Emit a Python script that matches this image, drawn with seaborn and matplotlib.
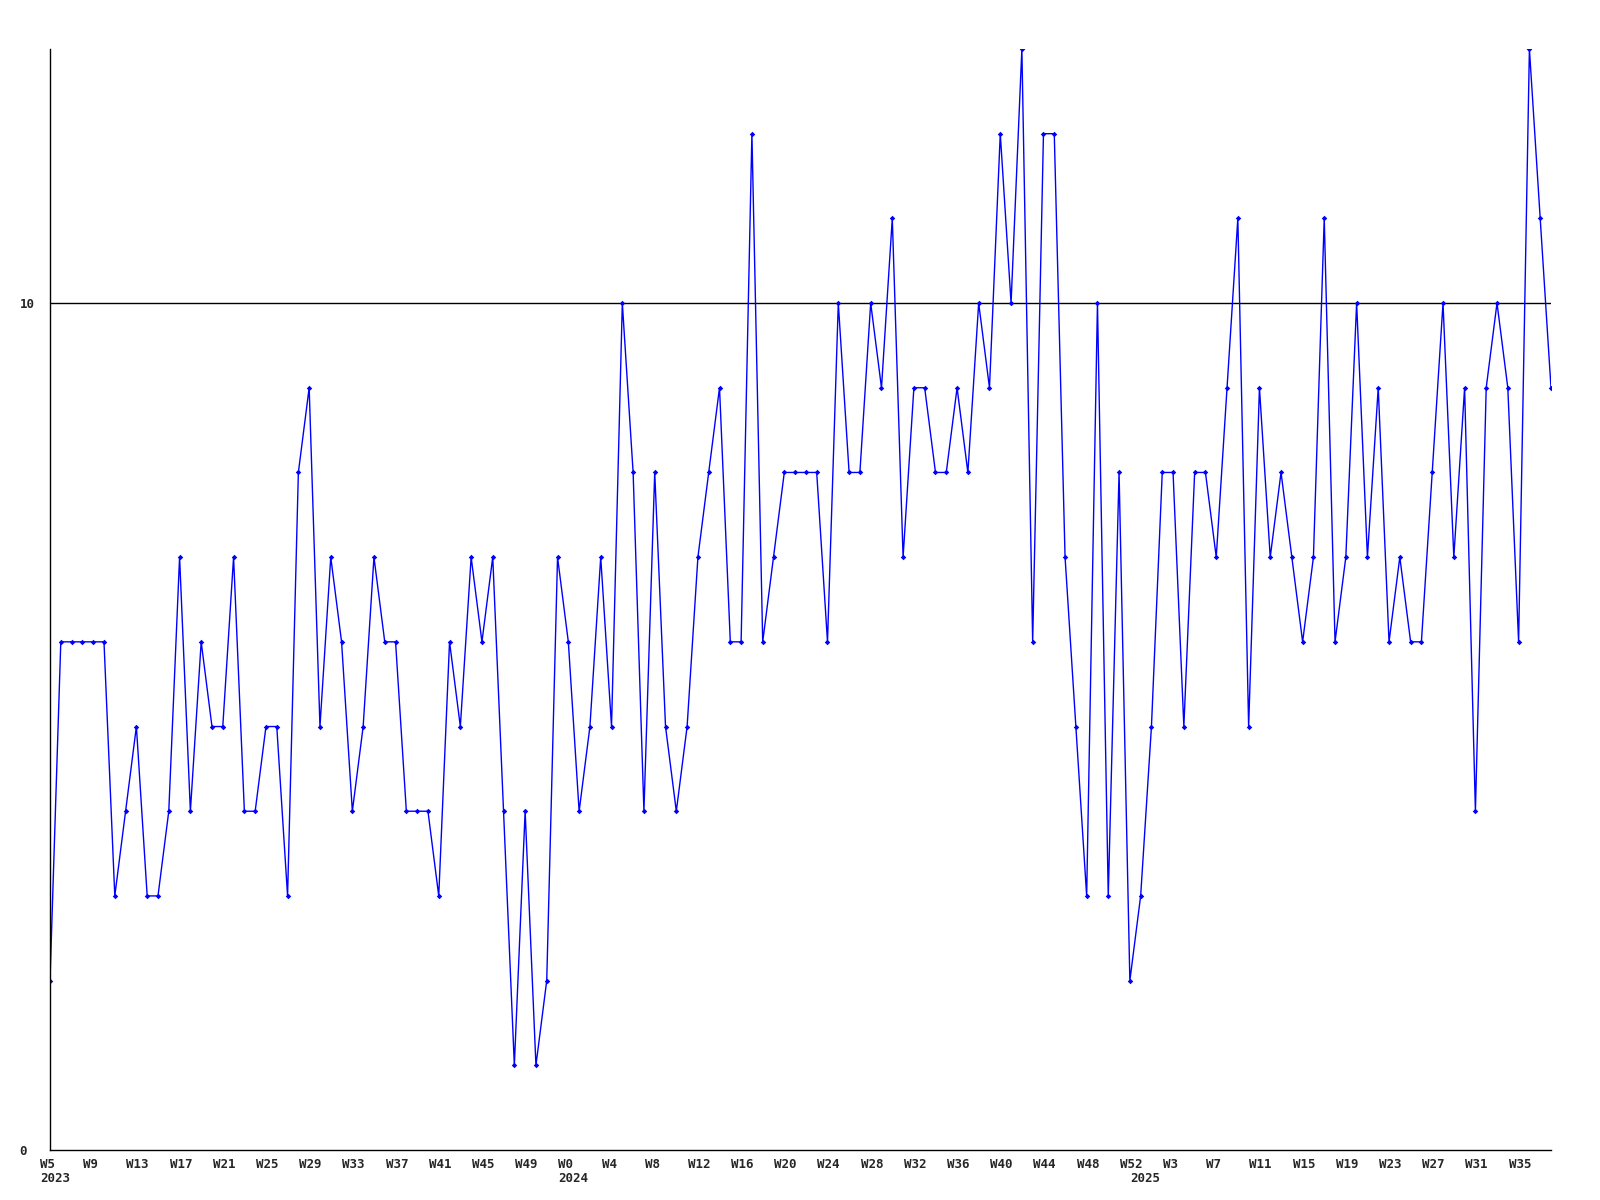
import numpy as np
import pandas as pd
import seaborn as sns
import matplotlib.pyplot as plt
import matplotlib.transforms as mtrans

# weekly counts, 2023 W5 .. 2025 W38
counts = [2, 6, 6, 6, 6, 6, 3, 4, 5, 3, 3, 4, 7, 4, 6, 5, 5, 7, 4, 4, 5, 5, 3,
          8, 9, 5, 7, 6, 4, 5, 7, 6, 6, 4, 4, 4, 3, 6, 5, 7, 6, 7, 4, 1, 4, 1, 2, 7,
          6, 4, 5, 7, 5, 10, 8, 4, 8, 5, 4, 5, 7, 8, 9, 6, 6, 12, 6, 7, 8, 8, 8, 8, 6,
          10, 8, 8, 10, 9, 11, 7, 9, 9, 8, 8, 9, 8, 10, 9, 12, 10, 13, 6, 12, 12, 7, 5, 3,
          10, 3, 8, 2, 3, 5, 8, 8, 5, 8, 8, 7, 9, 11, 5, 9, 7, 8, 7, 6, 7, 11, 6, 7,
          10, 7, 9, 6, 7, 6, 6, 8, 10, 7, 9, 4, 9, 10, 9, 6, 13, 11, 9]

week_labels = ["W5", "W9", "W13", "W17", "W21", "W25", "W29", "W33", "W37", "W41", "W45", "W49",
               "W0", "W4", "W8", "W12", "W16", "W20", "W24", "W28", "W32", "W36", "W40", "W44",
               "W48", "W52",
               "W3", "W7", "W11", "W15", "W19", "W23", "W27", "W31", "W35"]
year_labels = ["2023", "2024", "2025"]
year_starts = [0, 48, 101]

df = pd.DataFrame({"week": np.arange(len(counts)), "count": counts})

sns.set_style("white")
plt.rcParams['font.family'] = ['DejaVu Sans Mono']

fig = plt.figure(figsize=(16, 12), dpi=100)
ax = fig.add_axes([50 / 1600, 50 / 1200, 1501 / 1600, 1101 / 1200])

sns.lineplot(data=df, x="week", y="count", ax=ax, color="#0000ff", linewidth=1,
             marker="D", markersize=2.8, markeredgewidth=0, markerfacecolor="#0000ff")

ax.set_xlim(0, len(counts) - 1)
ax.set_ylim(0, 13)
ax.axhline(10, color="black", linewidth=1, zorder=1)

# year labels sit on minor ticks that share spots with week ticks
ax.xaxis.remove_overlapping_locs = False
ax.set_xticks(range(0, len(counts), 4))
ax.set_xticklabels(week_labels)
ax.set_xticks(year_starts, minor=True)
ax.set_xticklabels(year_labels, minor=True)
ax.set_yticks([0, 10])
ax.set_yticklabels(["0", "10"])
ax.set_xlabel("")
ax.set_ylabel("")

ax.tick_params(axis="x", which="major", length=0, pad=6)
ax.tick_params(axis="x", which="minor", length=0, pad=16)
ax.tick_params(axis="y", length=0, pad=22)

shift = mtrans.ScaledTranslation(-10 / 100, 0, fig.dpi_scale_trans)
for lab in ax.get_xticklabels() + ax.get_xticklabels(minor=True):
    lab.set_horizontalalignment("left")
    lab.set_transform(lab.get_transform() + shift)
    lab.set_fontsize(9)
    lab.set_fontweight("bold")
for lab in ax.get_yticklabels():
    lab.set_horizontalalignment("left")
    lab.set_fontsize(9)
    lab.set_fontweight("bold")

for side in ["top", "right"]:
    ax.spines[side].set_visible(False)
for side in ["left", "bottom"]:
    ax.spines[side].set_color("black")
    ax.spines[side].set_linewidth(1)

fig.savefig("out.png", dpi=100, facecolor="white")
